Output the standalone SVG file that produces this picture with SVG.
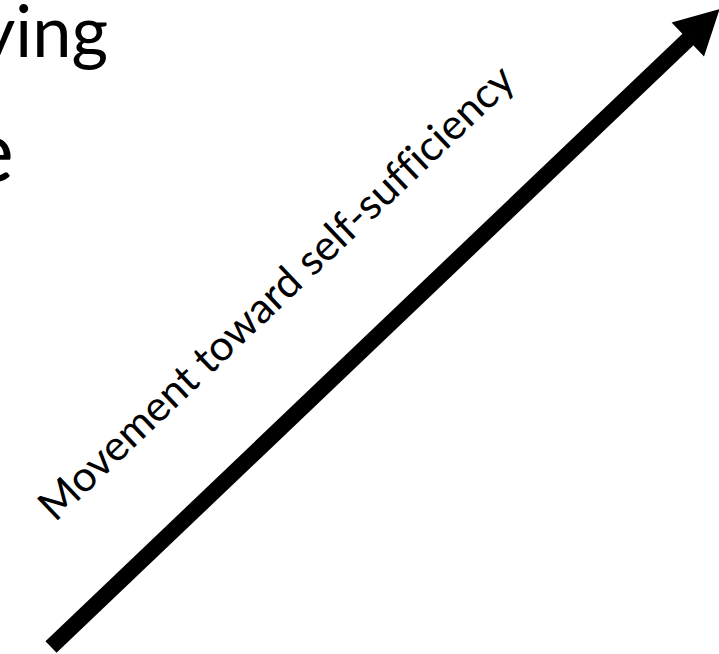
<svg xmlns="http://www.w3.org/2000/svg" width="719" height="654" viewBox="0 0 719 654">
<style>
  .t { font-family: "Lato", "Open Sans", "Liberation Sans", sans-serif; fill: #000; font-variant-ligatures: none; font-feature-settings: "liga" 0; }
</style>
<rect width="719" height="654" fill="#fff"/>
<g id="title-fragment-1"><text class="t" x="-21" y="56.5" font-size="71" textLength="129" lengthAdjust="spacingAndGlyphs">ying</text></g>
<g id="title-fragment-2"><text class="t" x="14" y="182" font-size="87" text-anchor="end">e</text></g>
<g id="connectors">
  <line x1="51" y1="647" x2="688.5" y2="39" stroke="#000" stroke-width="16"/>
  <polygon points="671.6,22.6 719.6,9.2 704,56.6" fill="#000"/>
</g>
<g id="label"><text class="t" transform="translate(55,523) rotate(-43.6)" font-size="42" textLength="638" lengthAdjust="spacingAndGlyphs">Movement toward self-sufficiency</text></g>
</svg>
